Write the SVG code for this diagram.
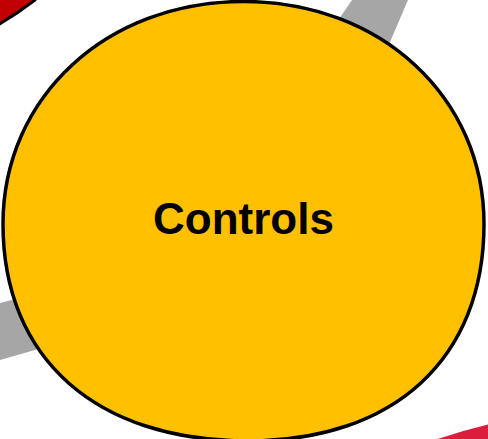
<svg xmlns="http://www.w3.org/2000/svg" width="488" height="439" viewBox="0 0 488 439">
<style>
.ring-gray{fill:#A6A6A6;}
.ring-red{fill:#C00000;stroke:#000;stroke-width:3;}
.ring-red2{fill:#DC1E3C;}
.node{fill:#FFC000;stroke:#000;stroke-width:3.5;}
.label{font-family:"Liberation Sans",Arial,sans-serif;font-weight:bold;font-size:44px;fill:#000;}
</style>
<g id="background">
<path class="ring-red" d="M-5,-5 L36,-5 L35,0 Q18,13 -2,25 L-5,26 Z"/>
<path class="ring-gray" d="M352,0 L408,0 L378,70 L322,44 Z"/>
<path class="ring-gray" d="M0,303 L70,285 L70,340 L0,360 Z"/>
<path class="ring-red2" d="M432,441 Q460,431 490,424 L490,441 Z"/>
</g>
<g id="controls">
<path class="node" d="M3,224 C3,97.2 106.4,1.5 243.5,1.5 C380.6,1.5 484,97.2 484,224 C484,358.5 394.3,441 248,441 C96.1,441 3,358.5 3,224 Z"/>
<text class="label" x="243.5" y="234" text-anchor="middle">Controls</text>
</g>
</svg>
